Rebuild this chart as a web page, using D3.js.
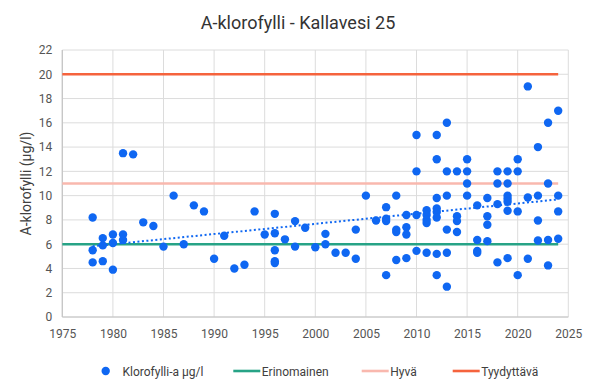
<!DOCTYPE html>
<html><head><meta charset="utf-8">
<script src="https://cdn.jsdelivr.net/npm/d3@7"></script>
<style>
html,body{margin:0;padding:0;background:#fff;}
svg{display:block;font-family:Roboto,"Liberation Sans",Arial,sans-serif;}
</style></head>
<body>
<svg id="chart" width="600" height="382"></svg>
<script>
// ---- data ----
const sampleYears = [
 1978,1978,1978, 1979,1979,1979, 1980,1980,1980, 1981,1981,1981,
 1982, 1983, 1984, 1985, 1986, 1987, 1988, 1989, 1990, 1991, 1992, 1993, 1994, 1995,
 1996,1996,1996,1996,1996, 1997, 1998,1998, 1999, 2000, 2001,2001, 2002, 2003, 2004,2004,
 2005, 2006, 2007,2007,2007,2007, 2008,2008,2008,2008, 2009,2009,2009,2009,
 2010,2010,2010,2010, 2011,2011,2011,2011,2011,
 2012,2012,2012,2012,2012,2012,2012,2012,
 2013,2013,2013,2013,2013,2013, 2014,2014,2014,2014, 2015,2015,2015,2015,
 2016,2016,2016,2016, 2017,2017,2017,2017, 2018,2018,2018,2018,
 2019,2019,2019,2019,2019,2019,2019, 2020,2020,2020,2020, 2021,2021,2021,
 2022,2022,2022,2022, 2023,2023,2023,2023, 2024,2024,2024,2024
];
const chlorophyll = [
 8.2,5.5,4.5, 6.5,5.9,4.6, 6.8,6.1,3.9, 13.5,6.8,6.35,
 13.4, 7.8, 7.5, 5.8, 10.0, 6.0, 9.2, 8.7, 4.8, 6.7, 4.0, 4.3, 8.7, 6.8,
 8.5,6.9,5.5,4.6,4.45, 6.4, 7.9,5.8, 7.35, 5.75, 6.85,6.0, 5.3, 5.3, 7.2,4.8,
 10.0, 7.95, 9.05,8.1,7.9,3.45, 10.0,7.2,7.0,4.7, 8.4,7.4,6.8,4.85,
 15.0,12.0,8.4,5.45, 8.8,8.4,8.0,7.75,5.3,
 15.0,13.0,9.8,8.95,8.65,8.2,5.2,3.45,
 16.0,12.0,10.0,7.2,5.3,2.5, 12.0,8.3,7.9,7.0, 13.0,12.0,11.0,10.0,
 9.2,6.35,5.45,5.3, 9.8,8.3,7.6,6.25, 12.0,11.0,9.3,4.5,
 12.0,11.0,10.0,9.75,9.5,8.75,4.85, 13.0,12.0,8.7,3.45, 19.0,9.85,4.8,
 14.0,10.0,7.95,6.3, 16.0,11.0,6.35,4.25, 17.0,10.0,8.7,6.45
];
// linear trend line (start / end)
const trendYears = [1978, 2024];
const trendValues = [5.83, 9.69];
const thresholdNames = ["Erinomainen", "Hyvä", "Tyydyttävä"];
const thresholdValues = [6, 11, 20];
const thresholdYears = [1975, 2024];
const seriesName = "Klorofylli-a µg/l";
const xTicks = [1975,1980,1985,1990,1995,2000,2005,2010,2015,2020,2025];
const yTicks = [0,2,4,6,8,10,12,14,16,18,20,22];
const titleText = "A-klorofylli - Kallavesi 25";
const yAxisTitle = "A-klorofylli (µg/l)";

// ---- styles ----
const pointColor = "#0f67f2";
const thresholdColors = ["#27a386", "#f9b8ae", "#f5633d"];
const FONT = "Roboto, 'Liberation Sans', Arial, sans-serif";

const svg = d3.select("#chart");
const m = {left: 62.3, right: 568.3, top: 50, bottom: 317};
const x = d3.scaleLinear().domain([1975, 2025]).range([m.left, m.right]);
const y = d3.scaleLinear().domain([0, 22]).range([m.bottom, m.top]);

// gridlines
const grid = svg.append("g");
grid.selectAll("line.h").data(yTicks).join("line")
  .attr("x1", m.left).attr("x2", m.right)
  .attr("y1", d => y(d)).attr("y2", d => y(d))
  .attr("stroke", "#dcdcdc").attr("stroke-width", 1);
grid.selectAll("line.v").data(xTicks).join("line")
  .attr("x1", d => x(d)).attr("x2", d => x(d))
  .attr("y1", m.top).attr("y2", m.bottom)
  .attr("stroke", "#dcdcdc").attr("stroke-width", 1);
// axis lines
svg.append("line").attr("x1", m.left).attr("x2", m.right).attr("y1", m.bottom).attr("y2", m.bottom)
  .attr("stroke", "#c4c4c4").attr("stroke-width", 1.2);
svg.append("line").attr("x1", m.left).attr("x2", m.left).attr("y1", m.top).attr("y2", m.bottom)
  .attr("stroke", "#c4c4c4").attr("stroke-width", 1.2);

// tick labels via axes
const yAxis = d3.axisLeft(y).tickValues(yTicks).tickSize(0).tickPadding(10);
svg.append("g").attr("transform", `translate(${m.left},0)`).call(yAxis)
  .call(g => g.select(".domain").remove())
  .selectAll("text").attr("font-size", 12).attr("fill", "#555").attr("font-family", FONT);
const xAxis = d3.axisBottom(x).tickValues(xTicks).tickFormat(d3.format("d")).tickSize(0).tickPadding(12);
svg.append("g").attr("transform", `translate(0,${m.bottom})`).call(xAxis)
  .call(g => g.select(".domain").remove())
  .selectAll("text").attr("font-size", 12).attr("fill", "#555").attr("font-family", FONT);

// threshold lines
const line = d3.line().x(d => x(d[0])).y(d => y(d[1]));
thresholdValues.forEach((v, i) => {
  svg.append("path").datum(thresholdYears.map(yr => [yr, v]))
    .attr("d", line).attr("fill", "none")
    .attr("stroke", thresholdColors[i]).attr("stroke-width", 2.6);
});

// points
svg.append("g").selectAll("circle").data(sampleYears.map((yr, i) => [yr, chlorophyll[i]])).join("circle")
  .attr("cx", d => x(d[0])).attr("cy", d => y(d[1])).attr("r", 4.2)
  .attr("fill", pointColor);

// linear trend
svg.append("path").datum(trendYears.map((v, i) => [v, trendValues[i]]))
  .attr("d", line).attr("fill", "none").attr("stroke", pointColor)
  .attr("stroke-width", 2).attr("stroke-dasharray", "2,2.5");

// title
svg.append("text").attr("x", 298).attr("y", 29).attr("text-anchor", "middle")
  .attr("font-size", 18).attr("fill", "#333").text(titleText);
// y axis title
svg.append("text").attr("transform", `translate(31,${(m.top+m.bottom)/2}) rotate(-90)`)
  .attr("text-anchor", "middle").attr("font-size", 14).attr("fill", "#404040").text(yAxisTitle);

// legend
const ly = 371;
const lg = svg.append("g").attr("font-size", 12).attr("fill", "#404040");
lg.append("circle").attr("cx", 105.7).attr("cy", ly).attr("r", 4.2).attr("fill", pointColor);
lg.append("text").attr("x", 122.5).attr("y", ly + 4.5).attr("fill", "#404040").text(seriesName);
const legX = [233.3, 361.7, 452.7];
thresholdNames.forEach((nm, i) => {
  lg.append("line").attr("x1", legX[i]).attr("x2", legX[i] + 27).attr("y1", ly).attr("y2", ly)
    .attr("stroke", thresholdColors[i]).attr("stroke-width", 2.6);
  lg.append("text").attr("x", legX[i] + 28.5).attr("y", ly + 4.5).attr("fill", "#404040").text(nm);
});
</script>
</body></html>
